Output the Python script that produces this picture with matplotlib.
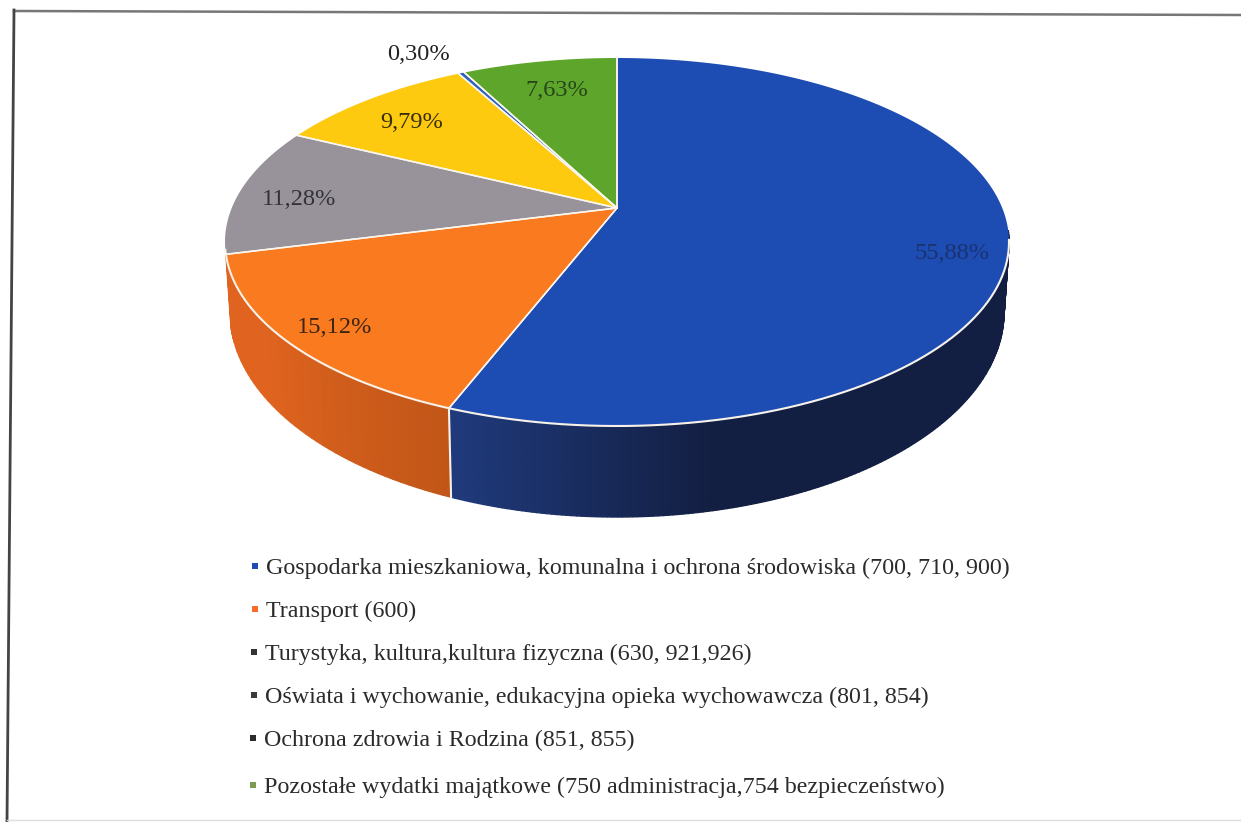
import matplotlib
matplotlib.use('Agg')
import matplotlib.pyplot as plt
import numpy as np
from matplotlib.colors import to_rgb

# Data
shares = [55.88, 15.12, 11.28, 9.79, 0.30, 7.63]
share_labels = ['55,88%', '15,12%', '11,28%', '9,79%', '0,30%', '7,63%']
categories = [
    'Gospodarka mieszkaniowa, komunalna i ochrona środowiska (700, 710, 900)',
    'Transport (600)',
    'Turystyka, kultura,kultura fizyczna (630, 921,926)',
    'Oświata i wychowanie, edukacyjna opieka wychowawcza (801, 854)',
    'Ochrona zdrowia i Rodzina (851, 855)',
    'Pozostałe wydatki majątkowe (750 administracja,754 bezpieczeństwo)',
]
top_colors = ['#1d4cb3', '#fa7a20', '#98939b', '#fdca0f', '#2f62bd', '#5ea62b']
# only the first two slices show a wall, the rest sit behind the top face
wall_start = ['#1f3a7c', '#c25618']
wall_end = ['#131f42', '#e0641f']
legend_colors = ['#1d4cb3', '#fa6a2a', '#333333', '#3a3a3a', '#2b2b2b', '#7d9a55']
label_colors = ['#1b3270', '#3a2412', '#33323a', '#3a2e08', '#222222', '#27471a']

plt.rcParams['font.family'] = ['Liberation Serif', 'DejaVu Serif']

fig = plt.figure(figsize=(12.41, 8.22), dpi=100)
ax = fig.add_axes([0, 0, 1, 1])
ax.set_xlim(0, 1241)
ax.set_ylim(822, 0)
ax.axis('off')

# Perspective disc: angle from 12 o'clock, clockwise
persp = 0.1847
cx = 617


def rim(theta, half_w, half_h, centre_y):
    x = np.sin(theta)
    y = np.cos(theta)
    w = 1 + persp * y
    scale = np.sqrt(1 - persp ** 2)
    apex_y = centre_y - half_h * persp
    return cx + half_w * scale * x / w, apex_y - half_h * scale ** 2 * y / w


def top_rim(theta):
    return rim(theta, 392, 184, 242)


def bottom_rim(theta):
    return rim(theta, 387, 205, 312)


edges = np.radians(np.concatenate([[0], np.cumsum(shares)]) * 3.6)

# Side walls, shaded in thin strips. The back part is hidden, so start at the right edge
for i in range(len(wall_start)):
    first = max(edges[i], np.radians(97))
    steps = np.linspace(first, edges[i + 1], int(shares[i] * 3) + 1)
    start, end = np.array(to_rgb(wall_start[i])), np.array(to_rgb(wall_end[i]))
    for j in range(len(steps) - 1):
        t = np.array([steps[j], steps[j + 1]])
        xt, yt = top_rim(t)
        xb, yb = bottom_rim(t)
        frac = j / (len(steps) - 2)
        if i == 0:
            frac = min((1 - frac) * 3.2, 1)
        else:
            frac = min(frac * 1.6, 1)
        col = start + (end - start) * frac
        ax.fill([xt[0], xt[1], xb[1], xb[0]], [yt[0], yt[1], yb[1], yb[0]],
                color=col, lw=1.0, zorder=1)

# Top face
apex = top_rim(np.array([0.0]))[0][0], 208
for i in range(len(shares)):
    t = np.linspace(edges[i], edges[i + 1], 200)
    xt, yt = top_rim(t)
    ax.fill(np.r_[apex[0], xt], np.r_[apex[1], yt], color=top_colors[i], lw=0, zorder=2)
    ax.plot([apex[0], xt[0]], [apex[1], yt[0]], color='#fbf6ee', lw=1.1, zorder=3)
    ax.plot([apex[0], xt[-1]], [apex[1], yt[-1]], color='#fbf6ee', lw=1.1, zorder=3)

# White highlight along the front rim, and the joint between the two front walls
t = np.linspace(np.radians(100), np.radians(257), 300)
ax.plot(*top_rim(t), color='#f6f2ea', lw=1.5, zorder=3)
xt, yt = top_rim(edges[1:2])
xb, yb = bottom_rim(edges[1:2])
ax.plot([xt[0], xb[0]], [yt[0], yb[0]], color='#f6f2ea', lw=1.5, zorder=3)

# Percent labels
label_pos = [(952, 253), (334, 327), (299, 199), (412, 123), (418, 55), (557, 91)]
for i in range(len(shares)):
    ax.text(label_pos[i][0], label_pos[i][1], share_labels[i], ha='center', va='center',
            fontsize=17.6, color=label_colors[i], zorder=4)

# Legend
legend_y = [568, 611, 654, 697, 740, 787]
legend_x = [266, 266, 265, 265, 264, 264]
for i in range(len(categories)):
    ax.plot(legend_x[i] - 11, legend_y[i] - 2, 's', ms=4.8, color=legend_colors[i], mew=0)
    ax.text(legend_x[i], legend_y[i], categories[i], ha='left', va='center',
            fontsize=17.3, color='#2b2b2b')

# Scanned page frame
ax.plot([14, 1241], [11, 15], color='#777777', lw=1.8)
ax.plot([14, 7], [10, 822], color='#444444', lw=2.0)
ax.plot([7, 1241], [820, 820], color='#dddddd', lw=1.0)

fig.savefig('out.png', dpi=100)
